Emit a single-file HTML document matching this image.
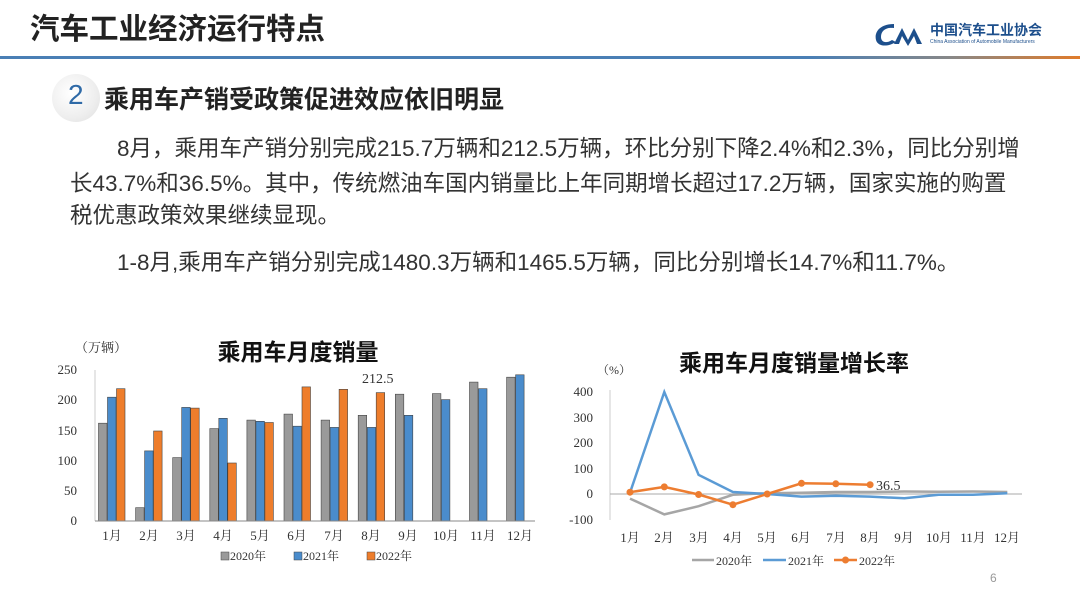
<!DOCTYPE html>
<html><head><meta charset="utf-8"><style>
body{margin:0;width:1080px;height:604px;background:#fff;overflow:hidden;position:relative;font-family:"Liberation Sans","Noto Sans CJK SC",sans-serif}
.t{position:absolute;white-space:nowrap;color:#333}
</style></head><body>
<div class="t" style="left:30px;top:6px;font-size:29.5px;font-weight:bold;color:#222">汽车工业经济运行特点</div>
<svg style="position:absolute;left:872px;top:20px" width="60" height="30"><path d="M22 4 C8 4 2 12 4 20 C6 27 16 27 24 22 L20 20 C14 24 9 22 9 17 C9 10 15 7 22 8Z" fill="#1d4f8c"/><path d="M22 24 L30 8 L36 20 L42 8 L50 24 L45 24 L42 16 L36 26 L30 16 L27 24Z" fill="#1d4f8c"/></svg>
<div class="t" style="left:930px;top:20px;font-size:14px;font-weight:bold;color:#1d4f8c">中国汽车工业协会</div>
<div class="t" style="left:930px;top:39px;font-size:5px;color:#1d4f8c">China Association of Automobile Manufacturers</div>
<div style="position:absolute;left:0;top:56px;width:1080px;height:3px;background:linear-gradient(90deg,#4a7fb5,#4a7fb5 75%,#888 88%,#e07b2a)"></div>
<div style="position:absolute;left:52px;top:74px;width:48px;height:48px;border-radius:50%;background:radial-gradient(circle at 40% 40%,#fff,#eee 60%,#ddd)"></div>
<div class="t" style="left:68px;top:79px;font-size:28px;color:#2f6aa7">2</div>
<div class="t" style="left:104px;top:80px;font-size:25px;font-weight:bold;color:#222">乘用车产销受政策促进效应依旧明显</div>
<div class="t" style="left:117px;top:131px;font-size:22.5px">8月，乘用车产销分别完成215.7万辆和212.5万辆，环比分别下降2.4%和2.3%，同比分别增</div>
<div class="t" style="left:70px;top:166px;font-size:22.5px">长43.7%和36.5%。其中，传统燃油车国内销量比上年同期增长超过17.2万辆，国家实施的购置</div>
<div class="t" style="left:70px;top:198px;font-size:22.5px">税优惠政策效果继续显现。</div>
<div class="t" style="left:117px;top:245px;font-size:22.5px">1-8月,乘用车产销分别完成1480.3万辆和1465.5万辆，同比分别增长14.7%和11.7%。</div>
<svg style="position:absolute;left:0;top:0" width="1080" height="604" font-family="Liberation Serif,Noto Serif CJK SC,serif">
<text x="75" y="352" font-size="13" fill="#333">（万辆）</text>
<text x="298" y="360" font-size="23" font-weight="bold" font-family="Liberation Sans,Noto Sans CJK SC,sans-serif" text-anchor="middle" fill="#111">乘用车月度销量</text>
<g font-size="13" fill="#333" text-anchor="end"><text x="77" y="525">0</text><text x="77" y="495">50</text><text x="77" y="465">100</text><text x="77" y="435">150</text><text x="77" y="404">200</text><text x="77" y="374">250</text></g>
<line x1="95" y1="370" x2="95" y2="521" stroke="#ccc"/>
<g transform="translate(0,521) scale(1,-1)" stroke="#444" stroke-width="0.6">
<g fill="#9a9a9a"><rect x="98.5" width="8.5" height="97.8"/><rect x="135.6" width="8.5" height="13.3"/><rect x="172.7" width="8.5" height="63.4"/><rect x="209.8" width="8.5" height="92.4"/><rect x="246.9" width="8.5" height="100.9"/><rect x="284" width="8.5" height="106.9"/><rect x="321.1" width="8.5" height="100.9"/><rect x="358.2" width="8.5" height="105.7"/><rect x="395.3" width="8.5" height="126.8"/><rect x="432.4" width="8.5" height="127.4"/><rect x="469.5" width="8.5" height="138.9"/><rect x="506.6" width="8.5" height="143.8"/></g>
<g fill="#4a8ccc"><rect x="107.5" width="8.5" height="123.8"/><rect x="144.6" width="8.5" height="70.1"/><rect x="181.7" width="8.5" height="113.6"/><rect x="218.8" width="8.5" height="102.7"/><rect x="255.9" width="8.5" height="99.7"/><rect x="293" width="8.5" height="94.8"/><rect x="330.1" width="8.5" height="93.6"/><rect x="367.2" width="8.5" height="93.6"/><rect x="404.3" width="8.5" height="105.7"/><rect x="441.4" width="8.5" height="121.4"/><rect x="478.5" width="8.5" height="132.3"/><rect x="515.6" width="8.5" height="146.2"/></g>
<g fill="#ee7d2b"><rect x="116.5" width="8.5" height="132.3"/><rect x="153.6" width="8.5" height="90"/><rect x="190.7" width="8.5" height="112.9"/><rect x="227.8" width="8.5" height="58"/><rect x="264.9" width="8.5" height="98.5"/><rect x="302" width="8.5" height="134.1"/><rect x="339.1" width="8.5" height="131.7"/><rect x="376.2" width="8.5" height="128.4"/></g>
</g>
<line x1="95" y1="521" x2="535" y2="521" stroke="#888"/>
<text x="362" y="383" font-size="14" fill="#333">212.5</text>
<g font-size="13" fill="#333" text-anchor="middle"><text x="112" y="540">1月</text><text x="149" y="540">2月</text><text x="186" y="540">3月</text><text x="223" y="540">4月</text><text x="260" y="540">5月</text><text x="297" y="540">6月</text><text x="334" y="540">7月</text><text x="371" y="540">8月</text><text x="408" y="540">9月</text><text x="446" y="540">10月</text><text x="483" y="540">11月</text><text x="520" y="540">12月</text></g>
<g font-size="12" fill="#333"><rect x="221" y="552" width="8" height="8" fill="#9a9a9a" stroke="#444" stroke-width=".5"/><text x="230" y="560">2020年</text><rect x="294" y="552" width="8" height="8" fill="#4a8ccc" stroke="#444" stroke-width=".5"/><text x="303" y="560">2021年</text><rect x="367" y="552" width="8" height="8" fill="#ee7d2b" stroke="#444" stroke-width=".5"/><text x="376" y="560">2022年</text></g>

<text x="597" y="374" font-size="12" fill="#333">（%）</text>
<text x="794" y="371" font-size="23" font-weight="bold" font-family="Liberation Sans,Noto Sans CJK SC,sans-serif" text-anchor="middle" fill="#111">乘用车月度销量增长率</text>
<g font-size="13" fill="#333" text-anchor="end"><text x="593" y="396">400</text><text x="593" y="422">300</text><text x="593" y="447">200</text><text x="593" y="473">100</text><text x="593" y="498">0</text><text x="593" y="524">-100</text></g>
<line x1="610" y1="390" x2="610" y2="520" stroke="#ccc"/>
<line x1="610" y1="494" x2="1022" y2="494" stroke="#aaa"/>
<polyline fill="none" stroke="#a6a6a6" stroke-width="2.5" points="630,498.6 664.3,514.4 698.6,506.2 732.9,494.8 767.2,493.2 801.5,492.7 835.8,492 870.1,492 904.4,491.5 938.7,491.7 973,491.5 1007.3,492"/>
<polyline fill="none" stroke="#5b9bd5" stroke-width="2.5" points="630,492.7 664.3,392 698.6,474.9 732.9,492 767.2,494 801.5,496.6 835.8,495.8 870.1,496.6 904.4,498.3 938.7,494.8 973,494.8 1007.3,493.2"/>
<polyline fill="none" stroke="#ed7d31" stroke-width="2.5" points="630,492.2 664.3,486.9 698.6,494.5 732.9,504.7 767.2,494 801.5,483.3 835.8,483.8 870.1,484.7"/>
<g fill="#ed7d31"><circle cx="630" cy="492.2" r="3.5"/><circle cx="664.3" cy="486.9" r="3.5"/><circle cx="698.6" cy="494.5" r="3.5"/><circle cx="732.9" cy="504.7" r="3.5"/><circle cx="767.2" cy="494" r="3.5"/><circle cx="801.5" cy="483.3" r="3.5"/><circle cx="835.8" cy="483.8" r="3.5"/><circle cx="870.1" cy="484.7" r="3.5"/></g>
<text x="876" y="490" font-size="14" fill="#333">36.5</text>
<g font-size="13" fill="#333" text-anchor="middle"><text x="630" y="542">1月</text><text x="664" y="542">2月</text><text x="699" y="542">3月</text><text x="733" y="542">4月</text><text x="767" y="542">5月</text><text x="801" y="542">6月</text><text x="836" y="542">7月</text><text x="870" y="542">8月</text><text x="904" y="542">9月</text><text x="939" y="542">10月</text><text x="973" y="542">11月</text><text x="1007" y="542">12月</text></g>
<g font-size="12" fill="#333"><line x1="692" y1="560" x2="714" y2="560" stroke="#a6a6a6" stroke-width="2.5"/><text x="716" y="565">2020年</text><line x1="763" y1="560" x2="786" y2="560" stroke="#5b9bd5" stroke-width="2.5"/><text x="788" y="565">2021年</text><line x1="834" y1="560" x2="857" y2="560" stroke="#ed7d31" stroke-width="2.5"/><circle cx="845.5" cy="560" r="3.5" fill="#ed7d31"/><text x="859" y="565">2022年</text></g>
<text x="990" y="582" font-size="12" fill="#999" font-family="Liberation Sans,sans-serif">6</text>
</svg>
</body></html>
